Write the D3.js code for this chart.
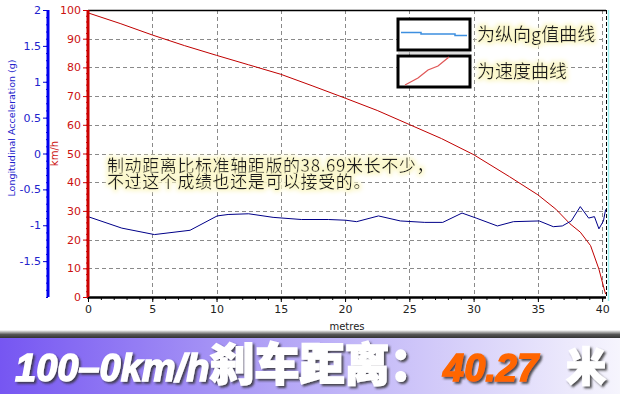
<!DOCTYPE html>
<html>
<head>
<meta charset="utf-8">
<script src="https://cdn.jsdelivr.net/npm/d3@7/dist/d3.min.js"></script>
<style>
body{margin:0;background:#fff;}
svg{display:block;}
</style>
</head>
<body>
<svg width="620" height="394"></svg>
<script>
// speed curve (km/h vs metres)
var speedDist = [0,2.5,5,7.5,10,12.5,15,17.5,20,22.5,25,27.5,30,32.8,35,36.4,37.5,38.3,39.1,39.75,40.15,40.27];
var speedVal  = [99.0,95.3,91.3,87.6,84.2,80.9,77.6,73.5,69.3,65.0,60.1,55.2,49.6,41.9,35.6,30.6,25.5,22.6,17.9,9.7,2.9,1.0];
// longitudinal acceleration (g vs metres)
var gDist = [0,2.63,5.17,7.94,10.05,10.9,12.5,14.4,16.6,18.7,20.05,20.9,22.6,24.3,26.2,27.6,29.1,30.2,31.85,33.1,35.1,36.2,36.9,37.6,38.3,38.95,39.4,39.75,40.1,40.27];
var gVal  = [-0.88,-1.04,-1.13,-1.07,-0.87,-0.85,-0.84,-0.89,-0.92,-0.92,-0.93,-0.95,-0.87,-0.94,-0.96,-0.96,-0.83,-0.90,-1.01,-0.95,-0.94,-1.02,-1.01,-0.94,-0.74,-0.90,-0.88,-1.05,-0.94,-0.78];
var xTicks = [0,5,10,15,20,25,30,35,40];
var kmhTicks = [0,10,20,30,40,50,60,70,80,90,100];
var gTicks = [-1.5,-1,-0.5,0,0.5,1,1.5,2];
var legendLabels = ['为纵向g值曲线','为速度曲线'];
var noteLines = ['制动距离比标准轴距版的38.69米长不少，','不过这个成绩也还是可以接受的。'];
var bannerParts = ['100–0km/h','刹车距离：','40.27','米'];

var svg = d3.select('svg');
var pL = 88, pR = 606, pT = 10, pB = 297;

var x = d3.scaleLinear().domain([0,40.3]).range([pL,pR]);
var yK = d3.scaleLinear().domain([0,100]).range([pB,pT]);
var yG = d3.scaleLinear().domain([-2,2]).range([pB,pT]);

var defs = svg.append('defs');
var glow = defs.append('filter').attr('id','glow').attr('x','-10%').attr('y','-40%').attr('width','120%').attr('height','180%');
glow.append('feMorphology').attr('in','SourceAlpha').attr('operator','dilate').attr('radius',2).attr('result','d');
glow.append('feGaussianBlur').attr('in','d').attr('stdDeviation',2).attr('result','b');
glow.append('feFlood').attr('flood-color','#fbf7c8');
glow.append('feComposite').attr('in2','b').attr('operator','in').attr('result','g');
var gm = glow.append('feMerge');
gm.append('feMergeNode').attr('in','g');
gm.append('feMergeNode').attr('in','SourceGraphic');

var shadow = defs.append('filter').attr('id','shadow').attr('x','-5%').attr('y','-20%').attr('width','110%').attr('height','150%');
shadow.append('feDropShadow').attr('dx',2).attr('dy',2).attr('stdDeviation',1.2).attr('flood-color','#333').attr('flood-opacity',0.85);

var grad = defs.append('linearGradient').attr('id','band').attr('x1','0').attr('x2','1').attr('y1','0').attr('y2','0');
grad.append('stop').attr('offset','0').attr('stop-color','#7656f2');
grad.append('stop').attr('offset','0.45').attr('stop-color','#b3a5f6');
grad.append('stop').attr('offset','1').attr('stop-color','#f6f5fd');

var sh = defs.append('linearGradient').attr('id','topsh').attr('x1','0').attr('x2','0').attr('y1','0').attr('y2','1');
sh.append('stop').attr('offset','0').attr('stop-color','#ffffff');
sh.append('stop').attr('offset','0.5').attr('stop-color','#555');
sh.append('stop').attr('offset','1').attr('stop-color','#2a2a2a');

// grid
var grid = svg.append('g').attr('stroke','#8a8a8a').attr('stroke-dasharray','4,3').attr('stroke-width',1);
grid.selectAll('.gx').data(xTicks.filter(d => d > 0)).enter().append('line')
  .attr('x1',d => Math.round(x(d))+0.5).attr('x2',d => Math.round(x(d))+0.5)
  .attr('y1',pT).attr('y2',pB);
grid.selectAll('.gy').data(kmhTicks.filter(d => d > 0 && d < 100)).enter().append('line')
  .attr('x1',pL).attr('x2',pR)
  .attr('y1',d => Math.round(yK(d))+0.5).attr('y2',d => Math.round(yK(d))+0.5);

// frame
svg.append('line').attr('x1',pL).attr('x2',pR).attr('y1',pT+0.5).attr('y2',pT+0.5).attr('stroke','#000').attr('stroke-width',1.5);
svg.append('line').attr('x1',pR+0.5).attr('x2',pR+0.5).attr('y1',pT).attr('y2',pB)
  .attr('stroke','#000').attr('stroke-dasharray','4,2');
svg.append('line').attr('x1',pR+2.5).attr('x2',pR+2.5).attr('y1',pT).attr('y2',pB+4)
  .attr('stroke','#9ef0f0').attr('stroke-width',1.5);

// curves
var lineK = d3.line().x((d,i) => x(speedDist[i])).y(d => yK(d));
svg.append('path').datum(speedVal).attr('d',lineK).attr('fill','none').attr('stroke','#c00000').attr('stroke-width',1);
var lineG = d3.line().x((d,i) => x(gDist[i])).y(d => yG(d));
svg.append('path').datum(gVal).attr('d',lineG).attr('fill','none').attr('stroke','#000088').attr('stroke-width',1);

// x axis
var xAxis = svg.append('g').attr('transform','translate(0,'+pB+')');
xAxis.call(d3.axisBottom(x).tickValues(d3.range(0,41,1)).tickSize(3).tickFormat(''));
xAxis.selectAll('.tick line').attr('stroke','#000');
var xMaj = svg.append('g').attr('transform','translate(0,'+pB+')')
  .call(d3.axisBottom(x).tickValues(xTicks).tickSize(5).tickPadding(3).tickFormat(d3.format('d')));
xMaj.selectAll('text').attr('fill','#222').style('font','11px "DejaVu Sans", sans-serif');
svg.selectAll('.domain').remove();
svg.append('line').attr('x1',pL-1).attr('x2',pR).attr('y1',pB+0.5).attr('y2',pB+0.5).attr('stroke','#000').attr('stroke-width',2.5);
svg.append('text').attr('x',(pL+pR)/2).attr('y',330).attr('text-anchor','middle')
  .attr('fill','#222').style('font','10px "DejaVu Sans", sans-serif').text('metres');

// red km/h axis
var kAx = svg.append('g').attr('transform','translate('+pL+',0)');
kAx.call(d3.axisLeft(yK).tickValues(d3.range(0,101,2)).tickSize(2).tickFormat(''));
kAx.selectAll('line').attr('stroke','#cc0000');
var kMaj = svg.append('g').attr('transform','translate('+pL+',0)')
  .call(d3.axisLeft(yK).tickValues(kmhTicks).tickSize(5).tickPadding(2));
kMaj.selectAll('line').attr('stroke','#cc0000');
kMaj.selectAll('text').attr('fill','#cc1111').style('font','11px "DejaVu Sans", sans-serif');
kAx.selectAll('.domain').remove(); kMaj.selectAll('.domain').remove();
svg.append('line').attr('x1',pL).attr('x2',pL).attr('y1',pT).attr('y2',pB).attr('stroke','#cc0000').attr('stroke-width',3);
svg.append('text').attr('transform','translate(58,'+yK(50)+') rotate(-90)').attr('text-anchor','middle')
  .attr('fill','#cc1111').style('font','10px "DejaVu Sans", sans-serif').text('km/h');

// blue g axis
var gx0 = 48;
var gAx = svg.append('g').attr('transform','translate('+gx0+',0)');
gAx.call(d3.axisLeft(yG).tickValues(d3.range(-20,21,1).map(d => d/10)).tickSize(2).tickFormat(''));
gAx.selectAll('line').attr('stroke','#0000cc');
var gMaj = svg.append('g').attr('transform','translate('+gx0+',0)')
  .call(d3.axisLeft(yG).tickValues(gTicks).tickSize(5).tickPadding(2).tickFormat(d => d));
gMaj.selectAll('line').attr('stroke','#0000cc');
gMaj.selectAll('text').attr('fill','#2222cc').style('font','11px "DejaVu Sans", sans-serif');
gAx.selectAll('.domain').remove(); gMaj.selectAll('.domain').remove();
svg.append('line').attr('x1',gx0).attr('x2',gx0).attr('y1',pT).attr('y2',pB).attr('stroke','#0000ee').attr('stroke-width',3);
svg.append('text').attr('transform','translate(15,128) rotate(-90)').attr('text-anchor','middle')
  .attr('fill','#2222cc').style('font','9.5px "DejaVu Sans", sans-serif').text('Longitudinal Acceleration (g)');

// legend
var lg = svg.append('g');
lg.append('rect').attr('x',398).attr('y',19).attr('width',72).attr('height',31).attr('fill','#fff').attr('stroke','#000').attr('stroke-width',3);
lg.append('rect').attr('x',398).attr('y',56).attr('width',72).attr('height',31).attr('fill','#fff').attr('stroke','#000').attr('stroke-width',3);
lg.append('line').attr('x1',398).attr('x2',470).attr('y1',53).attr('y2',53).attr('stroke','#bbb').attr('stroke-width',1);
lg.append('path').attr('d','M401,32.5H421V34H455V35.5H467').attr('fill','none').attr('stroke','#3d8fe0').attr('stroke-width',1.5);
lg.append('path').attr('d','M405,85L418,78L428,70L438,66L449,57').attr('fill','none').attr('stroke','#e05858').attr('stroke-width',1.3);
lg.selectAll('.lt').data(legendLabels).enter().append('text')
  .attr('x',477).attr('y',(d,i) => 41 + i*37)
  .attr('fill','#1a1a1a').attr('filter','url(#glow)')
  .style('font','18px "Noto Sans CJK SC", sans-serif').text(d => d);

// note
svg.selectAll('.note').data(noteLines).enter().append('text')
  .attr('x',107).attr('y',(d,i) => 172 + i*16)
  .attr('fill','#1a1a1a').attr('filter','url(#glow)')
  .style('font','17px "Noto Sans CJK SC", sans-serif').style('letter-spacing','0.6px').text(d => d);

// banner
svg.append('rect').attr('x',0).attr('y',330).attr('width',620).attr('height',9).attr('fill','url(#topsh)');
svg.append('rect').attr('x',0).attr('y',338).attr('width',620).attr('height',56).attr('fill','url(#band)');
var bt = svg.append('text').attr('x',15).attr('y',381).attr('filter','url(#shadow)')
  .attr('stroke-width',1.4).style('font','italic 900 38px "Liberation Sans", sans-serif');
bt.append('tspan').attr('fill','#fff').attr('stroke','#fff').text(bannerParts[0]);
bt.append('tspan').attr('fill','#fff').attr('stroke','#fff')
  .style('font','900 45px "Noto Sans CJK SC", sans-serif').text(bannerParts[1]);
bt.append('tspan').attr('fill','#ff6600').attr('stroke','#ff6600').attr('x',443).text(bannerParts[2]);
bt.append('tspan').attr('fill','#fff').attr('stroke','#fff').attr('x',566)
  .style('font','900 40px "Noto Sans CJK SC", sans-serif').text(bannerParts[3]);
</script>
</body>
</html>
